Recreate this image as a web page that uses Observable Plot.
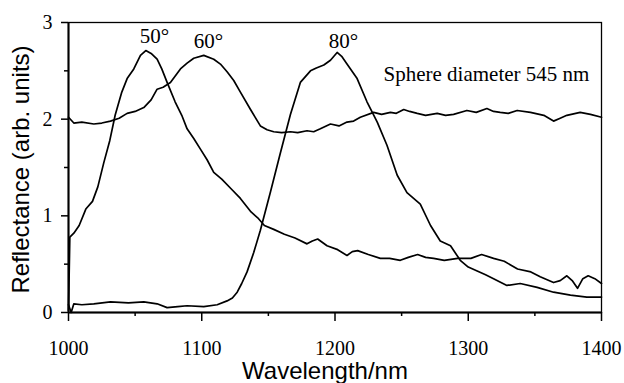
<!DOCTYPE html>
<html>
<head>
<meta charset="utf-8">
<script src="https://cdn.jsdelivr.net/npm/d3@7"></script>
<script src="https://cdn.jsdelivr.net/npm/@observablehq/plot@0.6"></script>
<style>
  html, body { margin: 0; padding: 0; background: #fff; }
</style>
</head>
<body>
<div id="chart"></div>
<script>
// ---- data ----
const wl50 = [1000, 1001, 1004, 1008, 1013, 1018, 1022, 1026.5, 1031, 1035, 1040, 1044, 1049, 1054, 1058, 1062, 1066.5, 1070, 1074, 1080, 1085, 1089, 1094, 1099, 1104, 1109, 1115, 1122, 1129, 1137, 1142, 1147, 1154, 1162, 1170, 1179, 1183, 1187, 1194, 1202, 1209, 1213, 1217, 1225, 1234, 1241, 1249, 1255, 1262, 1268, 1274, 1282, 1292, 1302, 1310, 1319, 1327, 1337, 1347, 1354, 1364, 1369, 1374, 1378, 1382, 1386, 1390, 1395, 1400];
const r50 = [0.02, 0.78, 0.82, 0.9, 1.07, 1.15, 1.3, 1.55, 1.78, 2.04, 2.28, 2.42, 2.52, 2.66, 2.71, 2.68, 2.62, 2.52, 2.38, 2.18, 2.04, 1.90, 1.80, 1.69, 1.58, 1.45, 1.38, 1.28, 1.18, 1.04, 0.98, 0.90, 0.86, 0.81, 0.77, 0.71, 0.74, 0.76, 0.69, 0.65, 0.59, 0.63, 0.64, 0.60, 0.56, 0.56, 0.54, 0.57, 0.60, 0.57, 0.56, 0.54, 0.56, 0.56, 0.60, 0.56, 0.53, 0.45, 0.42, 0.37, 0.31, 0.33, 0.38, 0.33, 0.25, 0.35, 0.38, 0.35, 0.30];

const wl60 = [1000, 1004, 1010, 1019, 1025, 1031.5, 1038, 1044, 1050, 1056.5, 1062, 1066.5, 1071, 1076.5, 1084, 1089, 1094, 1101.5, 1109, 1114, 1119, 1124, 1129, 1136.6, 1144, 1149, 1154, 1160, 1166.6, 1172, 1179, 1184, 1189, 1196.6, 1203, 1209, 1214, 1219, 1229, 1235, 1241.6, 1246, 1251.6, 1256, 1261.7, 1268, 1276.7, 1283, 1289, 1299, 1306, 1314, 1319, 1324, 1330, 1336.7, 1346.7, 1356.7, 1364, 1369, 1374, 1384, 1391.7, 1400];
const r60 = [2.02, 1.96, 1.97, 1.95, 1.96, 1.98, 2.01, 2.06, 2.08, 2.12, 2.2, 2.31, 2.33, 2.38, 2.52, 2.58, 2.63, 2.66, 2.62, 2.57, 2.49, 2.40, 2.28, 2.10, 1.93, 1.89, 1.87, 1.86, 1.87, 1.86, 1.88, 1.87, 1.90, 1.95, 1.93, 1.97, 1.98, 2.02, 2.07, 2.05, 2.07, 2.06, 2.10, 2.08, 2.06, 2.04, 2.06, 2.04, 2.05, 2.09, 2.07, 2.11, 2.08, 2.07, 2.06, 2.09, 2.07, 2.04, 1.98, 2.01, 2.04, 2.07, 2.05, 2.02];

const wl80 = [1000, 1002, 1004, 1010, 1019, 1031.5, 1045, 1056.5, 1066.5, 1074, 1082, 1089, 1101.5, 1111.6, 1119, 1123, 1126.6, 1130, 1134, 1139, 1144, 1151.6, 1159, 1166.6, 1174, 1181.6, 1186, 1191.6, 1196.6, 1201.6, 1205, 1209, 1216.6, 1224, 1231.7, 1239, 1246.7, 1254, 1259, 1264, 1271.7, 1279, 1286.7, 1294, 1300, 1306.7, 1313, 1319, 1329, 1339, 1351.7, 1364, 1376.7, 1389, 1400];
const r80 = [0.08, 0.0, 0.09, 0.08, 0.09, 0.11, 0.10, 0.11, 0.09, 0.05, 0.06, 0.07, 0.06, 0.08, 0.12, 0.15, 0.21, 0.30, 0.42, 0.62, 0.85, 1.25, 1.65, 2.05, 2.38, 2.50, 2.53, 2.56, 2.61, 2.69, 2.65, 2.57, 2.42, 2.18, 1.97, 1.73, 1.42, 1.24, 1.18, 1.12, 0.90, 0.74, 0.69, 0.54, 0.47, 0.43, 0.39, 0.35, 0.28, 0.30, 0.26, 0.21, 0.18, 0.16, 0.16];

const xTicks = [1000, 1100, 1200, 1300, 1400];
const xMinor = [1050, 1150, 1250, 1350];
const yTicks = [0, 1, 2, 3];
const yMinor = [0.5, 1.5, 2.5];

const curveLabels = ["50°", "60°", "80°"];
const curveLabelX = [1064.5, 1105, 1206.4];
const curveLabelY = [2.79, 2.74, 2.74];
const noteText = "Sphere diameter 545 nm";
const xLabel = "Wavelength/nm";
const yLabel = "Reflectance (arb. units)";

// ---- tables built from the arrays ----
const toRows = (xs, ys, s) => xs.map((x, i) => ({x, y: ys[i], s}));
const rows = [
  ...toRows(wl50, r50, "50"),
  ...toRows(wl60, r60, "60"),
  ...toRows(wl80, r80, "80")
];
const labelRows = curveLabels.map((t, i) => ({t, x: curveLabelX[i], y: curveLabelY[i]}));

const serif = "'Liberation Serif', 'Times New Roman', serif";
const sans = "'Liberation Sans', Arial, sans-serif";

const chart = Plot.plot({
  width: 624,
  height: 383,
  marginLeft: 68,
  marginRight: 23,
  marginTop: 22,
  marginBottom: 71,
  x: {domain: [1000, 1400]},
  y: {domain: [0, 3]},
  style: {fontFamily: serif, fontSize: "20px", background: "#fff", color: "#000"},
  marks: [
    Plot.axisX(xTicks, {tickSize: 9, tickPadding: 19, tickFormat: d => String(d), label: null, fontSize: 20, fontFamily: serif, strokeWidth: 1.5}),
    Plot.axisX(xMinor, {tickSize: 4, tickFormat: () => "", label: null, strokeWidth: 1.5}),
    Plot.axisY(yTicks, {tickSize: 7, tickPadding: 9, tickFormat: d => String(d), label: null, fontSize: 20, fontFamily: serif, strokeWidth: 1.5}),
    Plot.axisY(yMinor, {tickSize: 4, tickFormat: () => "", label: null, strokeWidth: 1.5}),
    Plot.frame({stroke: "#000", strokeWidth: 1.3}),
    Plot.ruleX([1000], {stroke: "#000", strokeWidth: 2}),
    Plot.ruleY([0], {stroke: "#000", strokeWidth: 2}),
    Plot.line(rows, {x: "x", y: "y", z: "s", stroke: "#000", strokeWidth: 1.7}),
    Plot.text(labelRows, {x: "x", y: "y", text: "t", fontFamily: serif, fontSize: 21, lineAnchor: "bottom", fill: "#000"}),
    Plot.text([noteText], {x: 1236.4, y: 2.40, text: d => d, textAnchor: "start", lineAnchor: "bottom", fontFamily: serif, fontSize: 21, fill: "#000"}),
    Plot.text([xLabel], {frameAnchor: "bottom", text: d => d, textAnchor: "middle", dx: -10, dy: 66, lineAnchor: "bottom", fontFamily: sans, fontSize: 24, fill: "#000"}),
    Plot.text([yLabel], {frameAnchor: "left", text: d => d, textAnchor: "middle", lineAnchor: "middle", rotate: -90, dx: -47, dy: 2, fontFamily: sans, fontSize: 24, fill: "#000"})
  ]
});
document.getElementById("chart").appendChild(chart);
</script>
</body>
</html>
